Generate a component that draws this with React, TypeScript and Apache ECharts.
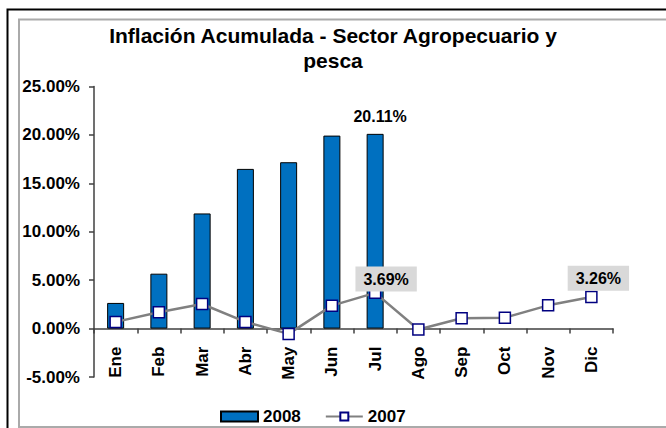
import React, { useEffect, useRef } from "react";
import * as echarts from "echarts";

const months = ["Ene", "Feb", "Mar", "Abr", "May", "Jun", "Jul", "Ago", "Sep", "Oct", "Nov", "Dic"];
const values2008: (number | null)[] = [2.65, 5.67, 11.89, 16.49, 17.18, 19.93, 20.11, null, null, null, null, null];
const values2007: number[] = [0.69, 1.68, 2.54, 0.69, -0.55, 2.37, 3.69, -0.1, 1.06, 1.13, 2.4, 3.26];
const labeled2008 = ["Jul"];
const labeled2007 = ["Jul", "Dic"];
const titleText = "Inflación Acumulada - Sector Agropecuario y\npesca";
const seriesNames = ["2008", "2007"];
const yMin = -5;
const yMax = 25;
const yStep = 5;

const FONT = "Liberation Sans, Arial, sans-serif";
const fmt = (v: number) => v.toFixed(2) + "%";

const GRID_TOP = 86.5;
const GRID_BOTTOM = 51;
const H = 428;

export default function App() {
  const ref = useRef<HTMLDivElement>(null);
  useEffect(() => {
    if (!ref.current) return;
    const chart = echarts.init(ref.current, null, { renderer: "svg" });
    const gridH = H - GRID_TOP - GRID_BOTTOM;
    const zeroOffset = -(gridH * (0 - yMin)) / (yMax - yMin);
    const barData = values2008.map((v, i) =>
      labeled2008.includes(months[i]) ? { value: v, label: { show: true } } : v
    );
    const lineData = values2007.map((v, i) =>
      labeled2007.includes(months[i])
        ? { value: v, label: { show: true, offset: months[i] === "Jul" ? [11, 5] : [7, 0] } }
        : v
    );
    chart.setOption({
      animation: false,
      backgroundColor: "#fff",
      textStyle: { fontFamily: FONT },
      title: {
        text: titleText,
        left: "center",
        top: 18,
        textStyle: { fontFamily: FONT, fontSize: 21, fontWeight: "bold", color: "#000", lineHeight: 25 },
      },
      graphic: [
        { type: "rect", z: -1, shape: { x: 7.5, y: 9.5, width: 720, height: 500 }, style: { fill: "none", stroke: "#000", lineWidth: 2 } },
        { type: "rect", z: -1, shape: { x: 19, y: 19.5, width: 720, height: 407.5 }, style: { fill: "none", stroke: "#aaaaaa", lineWidth: 2 } },
      ],
      legend: {
        left: 215,
        top: 403,
        itemWidth: 37,
        itemHeight: 10,
        itemGap: 24,
        textStyle: { fontFamily: FONT, fontSize: 17, fontWeight: "bold", color: "#000" },
        data: [{ name: seriesNames[0], icon: "rect" }, { name: seriesNames[1] }],
      },
      grid: { left: 94, right: 53, top: GRID_TOP, bottom: GRID_BOTTOM },
      xAxis: {
        type: "category",
        data: months,
        position: "bottom",
        offset: zeroOffset,
        axisLine: { onZero: false, lineStyle: { color: "#404040", width: 1.5 } },
        axisTick: { show: true, length: 5, lineStyle: { color: "#404040", width: 1.5 } },
        axisLabel: { rotate: 90, margin: 18, fontFamily: FONT, fontSize: 17, fontWeight: "bold", color: "#000" },
      },
      yAxis: {
        type: "value",
        min: yMin,
        max: yMax,
        interval: yStep,
        splitLine: { show: false },
        axisLine: { show: true, lineStyle: { color: "#404040", width: 1.5 } },
        axisTick: { show: true, length: 5, lineStyle: { color: "#404040", width: 1.5 } },
        axisLabel: { margin: 14, fontFamily: FONT, fontSize: 17, fontWeight: "bold", color: "#000", formatter: (v: number) => fmt(v) },
      },
      series: [
        {
          name: seriesNames[0],
          type: "bar",
          data: barData,
          barWidth: 17,
          itemStyle: { color: "#0070C0", borderColor: "#000", borderWidth: 1 },
          label: {
            show: false,
            position: "top",
            distance: 9,
            offset: [5, 0],
            fontFamily: FONT,
            fontSize: 16,
            fontWeight: "bold",
            color: "#000",
            formatter: (p: any) => fmt(p.value),
          },
        },
        {
          name: seriesNames[1],
          type: "line",
          data: lineData,
          symbol: "rect",
          symbolSize: 11,
          lineStyle: { color: "#808080", width: 2.5 },
          itemStyle: { color: "#ffffff", borderColor: "#000080", borderWidth: 1.5 },
          label: {
            show: false,
            position: "top",
            distance: 0,
            fontFamily: FONT,
            fontSize: 16,
            fontWeight: "bold",
            color: "#000",
            backgroundColor: "#d9d9d9",
            padding: [5, 8, 4, 8],
            formatter: (p: any) => fmt(p.value),
          },
          z: 3,
        },
      ],
    });
    return () => chart.dispose();
  }, []);
  return <div ref={ref} style={{ position: "fixed", left: 0, top: 0, width: 666, height: 428 }} />;
}
